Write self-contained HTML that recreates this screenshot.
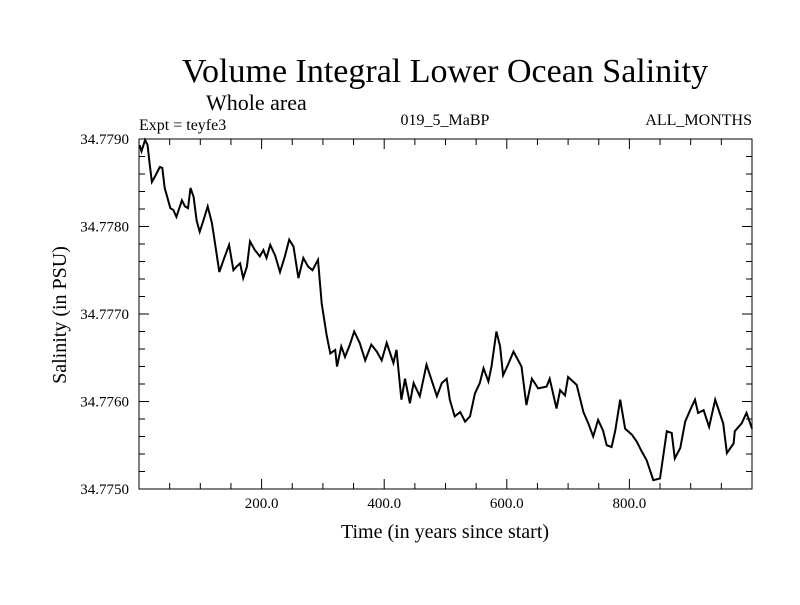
<!DOCTYPE html>
<html><head><meta charset="utf-8"><style>
body{margin:0;background:#fff}
svg text{font-family:"Liberation Serif",serif;fill:#000}
</style></head><body>
<svg id="chart" width="800" height="600" viewBox="0 0 800 600">
<text x="445" y="82" font-size="34" text-anchor="middle">Volume Integral Lower Ocean Salinity</text>
<text x="206" y="110" font-size="22">Whole area</text>
<text x="139" y="130" font-size="16">Expt = teyfe3</text>
<text x="445" y="125" font-size="16" text-anchor="middle">019_5_MaBP</text>
<text x="752" y="125" font-size="16" text-anchor="end">ALL_MONTHS</text>
<text x="445" y="538" font-size="20" text-anchor="middle">Time (in years since start)</text>
<text transform="translate(66,315) rotate(-90)" font-size="20" text-anchor="middle">Salinity (in PSU)</text>
<g id="axes"></g>
<path id="line" fill="none" stroke="#000" stroke-width="2"></path>
<rect x="139" y="139" width="613" height="350" fill="none" stroke="#000" stroke-width="1"></rect>
</svg>
<script>
const years=[1,4,10,14,17,21,26,34,38,42,46,51,56,61,70,75,80,84,89,94,99,105,112,119,124,131,138,147,154,159,165,170,176,181,189,197,203,208,214,222,230,238,245,252,260,268,276,283,292,298,306,312,320,323,330,336,344,351,360,369,379,388,396,404,415,420,428,434,442,448,458,469,477,486,494,502,507,515,524,532,540,548,556,562,570,575,583,589,594,602,611,624,632,641,651,665,670,681,687,695,700,714,725,733,741,749,757,763,771,777,785,793,804,812,820,828,839,850,861,869,874,883,891,899,907,912,921,930,940,953,959,970,972,983,991,1000];
const salinity=[34.77893,34.77886,34.77899,34.77893,34.77874,34.77851,34.77857,34.77868,34.77867,34.77844,34.77834,34.77821,34.77819,34.77811,34.77830,34.77823,34.77821,34.77844,34.77834,34.77807,34.77794,34.77807,34.77823,34.77804,34.77781,34.77748,34.77762,34.77779,34.77750,34.77754,34.77758,34.77741,34.77754,34.77783,34.77773,34.77766,34.77773,34.77764,34.77779,34.77767,34.77748,34.77766,34.77785,34.77777,34.77741,34.77764,34.77754,34.77750,34.77762,34.77712,34.77676,34.77655,34.77659,34.77640,34.77663,34.77651,34.77665,34.77680,34.77667,34.77647,34.77665,34.77657,34.77647,34.77667,34.77644,34.77659,34.77602,34.77626,34.77598,34.77621,34.77606,34.77642,34.77625,34.77606,34.77621,34.77626,34.77602,34.77583,34.77588,34.77577,34.77583,34.77609,34.77621,34.77638,34.77623,34.77640,34.77680,34.77663,34.77630,34.77642,34.77657,34.77640,34.77596,34.77626,34.77615,34.77617,34.77626,34.77592,34.77613,34.77607,34.77628,34.77619,34.77588,34.77575,34.77560,34.77579,34.77567,34.77550,34.77548,34.77567,34.77602,34.77569,34.77562,34.77554,34.77543,34.77533,34.77510,34.77512,34.77566,34.77564,34.77535,34.77547,34.77577,34.77590,34.77602,34.77587,34.77590,34.77571,34.77602,34.77575,34.77541,34.77552,34.77566,34.77575,34.77587,34.77569];
const xTickLabels=["200.0","400.0","600.0","800.0"];
const yTickLabels=["34.7750","34.7760","34.7770","34.7780","34.7790"];
const X0=139,X1=752,Y0=489,Y1=139,XMIN=0,XMAX=1000,YMIN=34.775,YMAX=34.779;
function xs(v){return X0+(v-XMIN)/(XMAX-XMIN)*(X1-X0);}
function ys(v){return Y0-(v-YMIN)/(YMAX-YMIN)*(Y0-Y1);}
const NS="http://www.w3.org/2000/svg";
const axes=document.getElementById('axes');
function ln(x1,y1,x2,y2){const l=document.createElementNS(NS,'line');l.setAttribute('x1',x1);l.setAttribute('y1',y1);l.setAttribute('x2',x2);l.setAttribute('y2',y2);l.setAttribute('stroke','#000');l.setAttribute('stroke-width','1');


axes.appendChild(l);}
for(let v=50;v<1000;v+=50){const x=xs(v);const L=(v%200===0)?10:6;ln(x,Y0,x,Y0-L);ln(x,Y1,x,Y1+L);}
for(let i=0;i<=20;i++){const v=YMIN+i*0.0002;const y=ys(v);const L=(i%5===0)?10:6;ln(X0,y,X0+L,y);ln(X1,y,X1-L,y);}
xTickLabels.forEach(s=>{const t=document.createElementNS(NS,'text');t.setAttribute('x',xs(parseFloat(s)));t.setAttribute('y',508);t.setAttribute('font-size','15');t.setAttribute('text-anchor','middle');t.textContent=s;


axes.appendChild(t);});
yTickLabels.forEach(s=>{const t=document.createElementNS(NS,'text');t.setAttribute('x',129);t.setAttribute('y',ys(parseFloat(s))+5);t.setAttribute('font-size','15');t.setAttribute('text-anchor','end');t.textContent=s;


axes.appendChild(t);});
document.getElementById('line').setAttribute('d',years.map((y,i)=>(i?'L':'M')+xs(y).toFixed(1)+','+ys(salinity[i]).toFixed(1)).join(''));
</script>
</body></html>
